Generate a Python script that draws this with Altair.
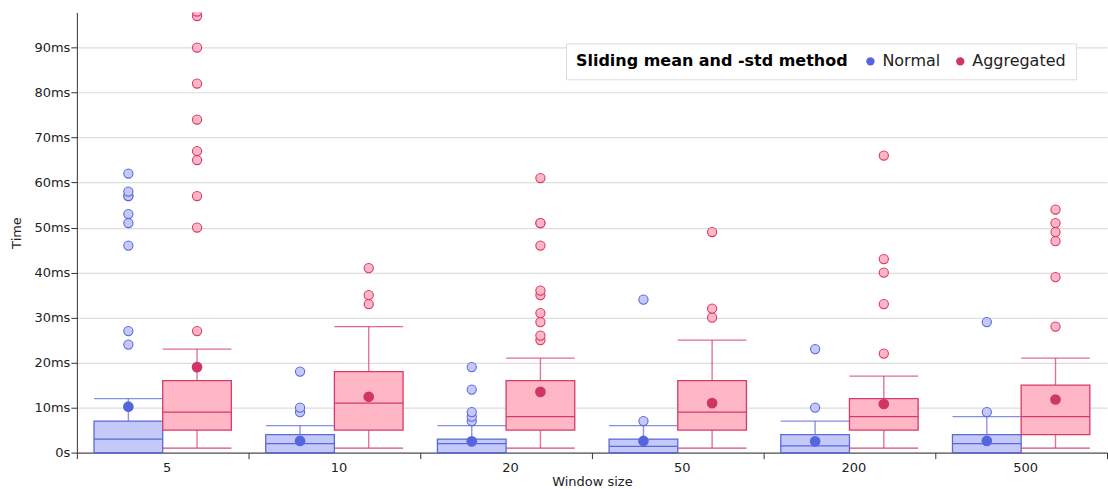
import altair as alt
import pandas as pd

# ---- data (ms) ----
categories = ["5", "10", "20", "50", "200", "500"]
methods = ["Normal", "Aggregated"]

normal_q1 = [0, 0, 0, 0, 0, 0]
normal_median = [3, 2, 2, 1.4, 1.5, 2]
normal_q3 = [7, 4, 3, 3, 4, 4]
normal_lower = [0, 0, 0, 0, 0, 0]
normal_upper = [12, 6, 6, 6, 7, 8]
normal_mean = [10.2, 2.6, 2.5, 2.6, 2.5, 2.6]
normal_outliers = [
    [24, 27, 46, 51, 53, 57, 57, 58, 62],
    [9, 10, 18],
    [7, 8, 9, 14, 19],
    [7, 34],
    [10, 23],
    [9, 29],
]

agg_q1 = [5, 5, 5, 5, 5, 4]
agg_median = [9, 11, 8, 9, 8, 8]
agg_q3 = [16, 18, 16, 16, 12, 15]
agg_lower = [1, 1, 1, 1, 1, 1]
agg_upper = [23, 28, 21, 25, 17, 21]
agg_mean = [19, 12.4, 13.5, 11, 10.8, 11.8]
agg_outliers = [
    [27, 50, 57, 65, 67, 74, 82, 90, 97, 98],
    [33, 35, 41],
    [25, 26, 29, 31, 35, 36, 46, 51, 51, 61],
    [30, 32, 49],
    [22, 33, 40, 43, 66],
    [28, 39, 47, 49, 51, 54],
]

light_colors = ["#c5c9fa", "#ffb7c6"]
dark_colors = ["#5a6ad8", "#d7396b"]
mean_colors = ["#5566dd", "#cf3665"]

rows = []
out_rows = []
for i, c in enumerate(categories):
    rows.append(dict(cat=c, method="Normal", q1=normal_q1[i], median=normal_median[i],
                     q3=normal_q3[i], lower=normal_lower[i], upper=normal_upper[i],
                     mean=normal_mean[i]))
    rows.append(dict(cat=c, method="Aggregated", q1=agg_q1[i], median=agg_median[i],
                     q3=agg_q3[i], lower=agg_lower[i], upper=agg_upper[i],
                     mean=agg_mean[i]))
    for v in normal_outliers[i]:
        out_rows.append(dict(cat=c, method="Normal", value=v))
    for v in agg_outliers[i]:
        out_rows.append(dict(cat=c, method="Aggregated", value=v))

stats = pd.DataFrame(rows)
stats["grp"] = stats["method"]
outs = pd.DataFrame(out_rows)
outs["grp"] = outs["method"]

FONT = "DejaVu Sans"
ymax = 97.8

x_enc = alt.X("cat:N", sort=categories, title="Window size",
              scale=alt.Scale(paddingInner=0, paddingOuter=0),
              axis=alt.Axis(tickBand="extent", labelAngle=0, tickSize=6, labelPadding=3,
                            labelFontSize=13, titleFontSize=13, titleFontWeight="normal",
                            titlePadding=1, labelOffset=4, grid=False,
                            domainColor="#333", tickColor="#333", labelColor="#222",
                            titleColor="#222"))
xo_enc = alt.XOffset("method:N", sort=methods,
                     scale=alt.Scale(domain=methods, paddingOuter=0.25, paddingInner=0))
# data-derived domains (Normal first via descending sort) so these hidden
# scales are not merged with the colour legend
fill_enc = alt.Fill("grp:N", sort="descending",
                    scale=alt.Scale(range=light_colors), legend=None)
stroke_enc = alt.Stroke("grp:N", sort="descending",
                        scale=alt.Scale(range=dark_colors), legend=None)


def yq(field, axis=False):
    if axis:
        return alt.Y(f"{field}:Q", title="Time",
                     scale=alt.Scale(domain=[0, ymax], nice=False, zero=True),
                     axis=alt.Axis(values=[0, 10, 20, 30, 40, 50, 60, 70, 80, 90],
                                   labelExpr="datum.value == 0 ? '0s' : datum.value + 'ms'",
                                   tickSize=6, labelPadding=1, labelFontSize=13,
                                   titleFontSize=13, titleFontWeight="normal",
                                   titlePadding=10, gridColor="#dddddd", gridWidth=1.2,
                                   domainColor="#333", tickColor="#333",
                                   labelColor="#222", titleColor="#222"))
    return alt.Y(f"{field}:Q")


base = alt.Chart(stats)

whisker = base.mark_rule(strokeWidth=1.4, strokeOpacity=0.7).encode(
    x=x_enc, xOffset=xo_enc, y=yq("lower", True), y2="upper:Q", stroke=stroke_enc)

box = base.mark_bar(strokeWidth=1.3, fillOpacity=1).encode(
    x=x_enc, xOffset=xo_enc, y=yq("q1"), y2="q3:Q", fill=fill_enc, stroke=stroke_enc)

median = base.mark_bar(strokeWidth=1.3, fillOpacity=0).encode(
    x=x_enc, xOffset=xo_enc, y=yq("median"), y2="median:Q", stroke=stroke_enc)

cap_hi = base.mark_bar(strokeWidth=1.4, fillOpacity=0, strokeOpacity=0.75).encode(
    x=x_enc, xOffset=xo_enc, y=yq("upper"), y2="upper:Q", stroke=stroke_enc)

cap_lo = base.mark_bar(strokeWidth=1.4, fillOpacity=0, strokeOpacity=0.9).encode(
    x=x_enc, xOffset=xo_enc, y=yq("lower"), y2="lower:Q", stroke=stroke_enc)

outliers = alt.Chart(outs).mark_point(shape="circle", filled=False, size=85, clip=True,
                                      strokeWidth=1.1, fillOpacity=1).encode(
    x=x_enc, xOffset=xo_enc, y=alt.Y("value:Q"), fill=fill_enc, stroke=stroke_enc)

mean = base.mark_circle(size=115, opacity=1).encode(
    x=x_enc, xOffset=xo_enc, y=yq("mean"),
    color=alt.Color("method:N", sort=methods,
                    scale=alt.Scale(domain=methods, range=mean_colors),
                    legend=alt.Legend(title="Sliding mean and -std method",
                                      orient="top-right", offset=31,
                                      direction="horizontal", titleOrient="left",
                                      titleFontSize=16, titleFontWeight="bold",
                                      titleColor="#000", titleLimit=500,
                                      labelFontSize=16, labelLimit=200,
                                      labelColor="#222", symbolType="circle",
                                      symbolSize=70,
                                      padding=10, strokeColor="#dddddd",
                                      fillColor="#ffffff", titlePadding=14,
                                      columnPadding=12)))

chart = alt.layer(whisker, box, median, cap_hi, cap_lo, outliers, mean).properties(
    width=1032, height=441,
    padding={"left": 11, "top": 12, "right": 0, "bottom": 0},
).configure(font=FONT).configure_view(stroke=None)

chart.save("out.html", embed_options={"renderer": "svg", "actions": False})
